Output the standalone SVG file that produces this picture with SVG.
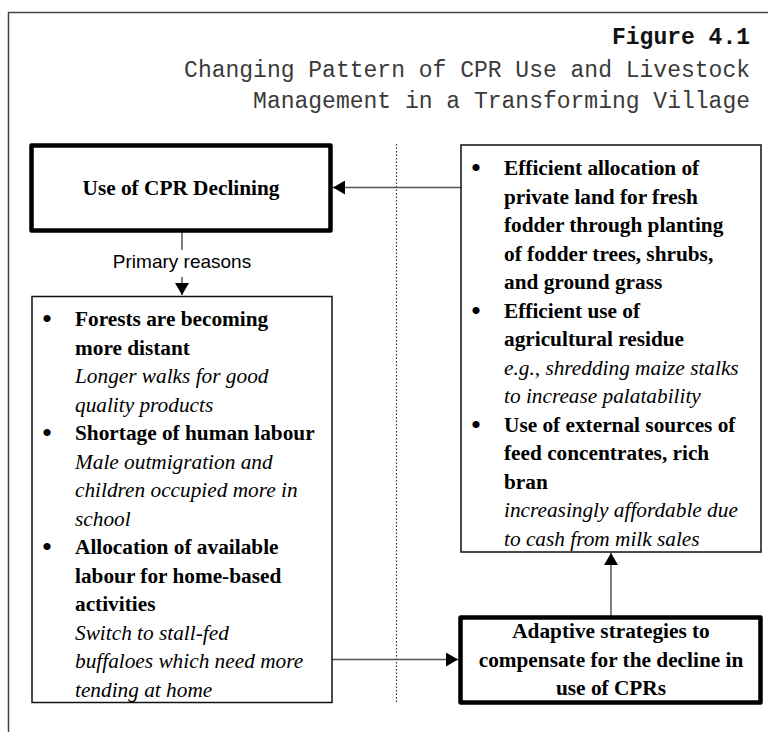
<svg xmlns="http://www.w3.org/2000/svg" width="768" height="732" viewBox="0 0 768 732">
<style>
.title{font-family:"Liberation Mono","Courier New",monospace;font-size:23px;fill:#3a3a3a;text-anchor:end}
.fig{font-weight:bold;fill:#111}
.b{font-family:"Liberation Serif","Times New Roman",serif;font-size:21.3px;font-weight:bold;fill:#000}
.i{font-family:"Liberation Serif","Times New Roman",serif;font-size:21.3px;font-style:italic;fill:#000}
.bul{font-family:"Liberation Serif","Times New Roman",serif;font-size:30px;fill:#000;text-anchor:middle}
.c{text-anchor:middle}
.thick{fill:#fff;stroke:#000;stroke-width:4.5;stroke-linejoin:round}
.thin{fill:#fff;stroke:#111;stroke-width:1.5}
.conn{fill:none;stroke:#555;stroke-width:1.5}
.lbl{font-family:"Liberation Sans",Arial,sans-serif;font-size:19px;fill:#000;text-anchor:middle}
</style>
<defs>
<marker id="ahL" viewBox="0 0 12 14" refX="12" refY="7" markerWidth="12" markerHeight="14" markerUnits="userSpaceOnUse" orient="auto">
<path d="M0,0 L12,7 L0,14 Z" fill="#000"/>
</marker>
</defs>
<g id="frame" fill="none" stroke="#444" stroke-width="1.5">
<path d="M8.5,732 V12.5 H768"/>
<line x1="396.5" y1="144" x2="396.5" y2="702" stroke="#333" stroke-width="1.2" stroke-dasharray="1.5 2"/>
</g>
<g id="title">
<text class="title fig" x="750" y="44">Figure 4.1</text>
<text class="title" x="750" y="77">Changing Pattern of CPR Use and Livestock</text>
<text class="title" x="750" y="108">Management in a Transforming Village</text>
</g>
<g id="connectors">
<path class="conn" d="M461,187.5 H333" marker-end="url(#ahL)"/>
<path class="conn" d="M182,232 V250 M182,277 V295" marker-end="url(#ahL)"/>
<text class="lbl" x="182" y="268">Primary reasons</text>
<path class="conn" d="M332,659.5 H458" marker-end="url(#ahL)"/>
<path class="conn" d="M611,616 V553" marker-end="url(#ahL)"/>
</g>
<g id="use-of-cpr-declining">
<rect class="thick" x="31.5" y="145.5" width="299" height="85"/>
<text class="b c" x="181" y="195">Use of CPR Declining</text>
</g>
<g id="primary-reasons-box">
<rect class="thin" x="32" y="296.5" width="300" height="406"/>
<text class="bul" x="47" y="329">•</text>
<text class="b" x="75" y="326">Forests are becoming</text>
<text class="b" x="75" y="354.5">more distant</text>
<text class="i" x="75" y="383">Longer walks for good</text>
<text class="i" x="75" y="411.5">quality products</text>
<text class="bul" x="47" y="443">•</text>
<text class="b" x="75" y="440">Shortage of human labour</text>
<text class="i" x="75" y="468.5">Male outmigration and</text>
<text class="i" x="75" y="497">children occupied more in</text>
<text class="i" x="75" y="525.5">school</text>
<text class="bul" x="47" y="557">•</text>
<text class="b" x="75" y="554">Allocation of available</text>
<text class="b" x="75" y="582.5">labour for home-based</text>
<text class="b" x="75" y="611">activities</text>
<text class="i" x="75" y="639.5">Switch to stall-fed</text>
<text class="i" x="75" y="668">buffaloes which need more</text>
<text class="i" x="75" y="696.5">tending at home</text>
</g>
<g id="strategies-box">
<rect class="thin" x="461" y="145" width="300" height="407"/>
<text class="bul" x="476" y="178">•</text>
<text class="b" x="504" y="175">Efficient allocation of</text>
<text class="b" x="504" y="203.5">private land for fresh</text>
<text class="b" x="504" y="232">fodder through planting</text>
<text class="b" x="504" y="260.5">of fodder trees, shrubs,</text>
<text class="b" x="504" y="289">and ground grass</text>
<text class="bul" x="476" y="320.5">•</text>
<text class="b" x="504" y="317.5">Efficient use of</text>
<text class="b" x="504" y="346">agricultural residue</text>
<text class="i" x="504" y="374.5">e.g., shredding maize stalks</text>
<text class="i" x="504" y="403">to increase palatability</text>
<text class="bul" x="476" y="434.5">•</text>
<text class="b" x="504" y="431.5">Use of external sources of</text>
<text class="b" x="504" y="460">feed concentrates, rich</text>
<text class="b" x="504" y="488.5">bran</text>
<text class="i" x="504" y="517">increasingly affordable due</text>
<text class="i" x="504" y="545.5">to cash from milk sales</text>
</g>
<g id="adaptive-strategies">
<rect class="thick" x="460.5" y="617.5" width="300" height="85"/>
<text class="b c" x="611" y="638">Adaptive strategies to</text>
<text class="b c" x="611" y="666.5">compensate for the decline in</text>
<text class="b c" x="611" y="695">use of CPRs</text>
</g>
</svg>
